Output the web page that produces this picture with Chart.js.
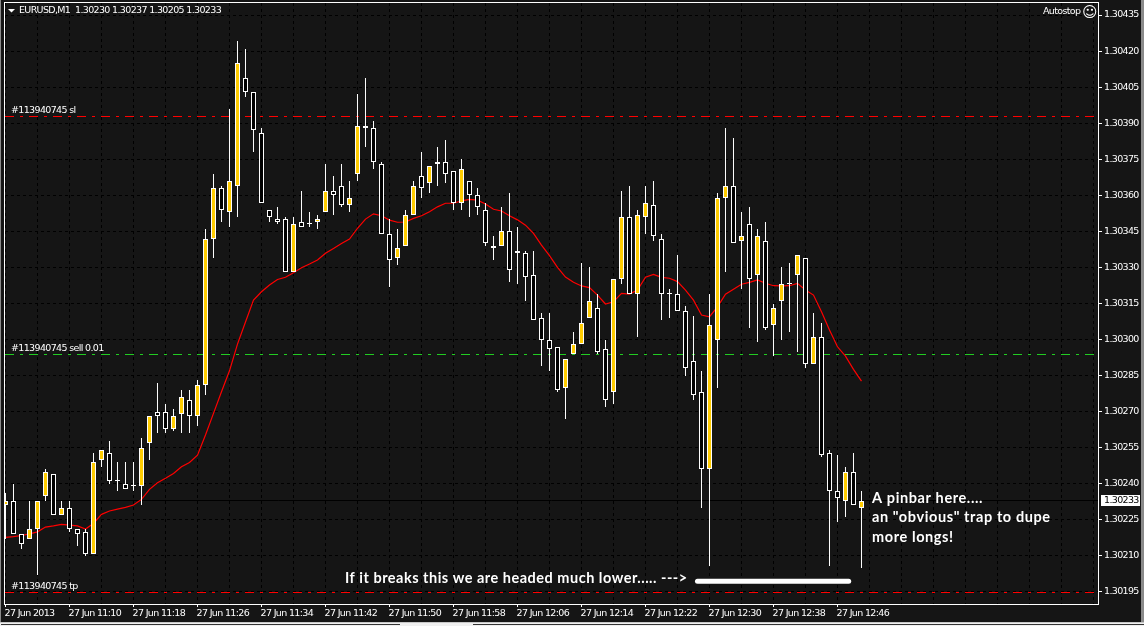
<!DOCTYPE html>
<html lang="en">
  <head>
    <meta charset="UTF-8" />
    <title>EURUSD,M1</title>
    <script src="https://cdn.jsdelivr.net/npm/chart.js"></script>
    <style>
      html, body { margin: 0; padding: 0; background: #151515; overflow: hidden; }
      #wrap { position: relative; width: 1144px; height: 626px; }
      canvas { display: block; }
      .edge { position: absolute; }
    </style>
  </head>
  <body>
    <div id="wrap">
      <canvas id="myChart" width="1144" height="626"></canvas>
      <div class="edge" style="left:0;top:0;width:1px;height:622px;background:#8a8a8a"></div>
      <div class="edge" style="left:1141px;top:0;width:3px;height:622px;background:#8a8a8a"></div>
      <div class="edge" style="left:0;top:622px;width:1144px;height:1px;background:#c8c8c8"></div>
      <div class="edge" style="left:0;top:623px;width:1144px;height:3px;background:#f0f0f0"></div>
      <div class="edge" style="left:1px;top:624px;width:399px;height:1px;background:#333"></div>
      <div class="edge" style="left:473px;top:624px;width:671px;height:1px;background:#333"></div>
    </div>

    <script>
      // DATA
      const opens = [
        1.30231,1.30233,1.30219,1.30217,1.30221,1.30235,1.30244,1.30227,1.30230,1.30221,
        1.30220,1.30211,1.30250,1.30253,1.30241,1.30240,1.30239,1.30239,1.30257,1.30270,
        1.30270,1.30263,1.30269,1.30275,1.30268,1.30281,1.30342,1.30363,1.30353,1.30364,
        1.30409,1.30403,1.30386,1.30354,1.30350,1.30350,1.30328,1.30349,1.30348,1.30349,
        1.30353,1.30362,1.30364,1.30356,1.30369,1.30389,1.30388,1.30373,1.30344,1.30334,
        1.30339,1.30352,1.30368,1.30365,1.30374,1.30374,1.30370,1.30357,1.30366,1.30360,
        1.30354,1.30339,1.30339,1.30345,1.30337,1.30336,1.30327,1.30309,1.30300,1.30297,
        1.30280,1.30294,1.30298,1.30309,1.30313,1.30296,1.30278,1.30325,1.30351,1.30319,
        1.30351,1.30356,1.30342,1.30319,1.30319,1.30312,1.30291,1.30278,1.30246,1.30300,
        1.30359,1.30364,1.30341,1.30348,1.30327,1.30341,1.30306,1.30316,1.30323,1.30327,
        1.30334,1.30290,1.30301,1.30253,1.30237,1.30233,1.30245,1.30230
      ];
      const highs = [
        1.30236,1.30240,1.30219,1.30233,1.30233,1.30246,1.30244,1.30233,1.30233,1.30221,
        1.30221,1.30253,1.30254,1.30258,1.30249,1.30249,1.30249,1.30259,1.30268,1.30282,
        1.30273,1.30271,1.30279,1.30279,1.30283,1.30346,1.30369,1.30364,1.30396,1.30424,
        1.30421,1.30403,1.30388,1.30354,1.30355,1.30351,1.30351,1.30362,1.30353,1.30352,
        1.30373,1.30368,1.30373,1.30366,1.30402,1.30409,1.30391,1.30374,1.30350,1.30346,
        1.30354,1.30366,1.30378,1.30372,1.30380,1.30383,1.30370,1.30375,1.30366,1.30363,
        1.30357,1.30343,1.30355,1.30361,1.30347,1.30337,1.30337,1.30311,1.30311,1.30297,
        1.30292,1.30303,1.30332,1.30330,1.30319,1.30300,1.30325,1.30362,1.30364,1.30354,
        1.30364,1.30366,1.30344,1.30321,1.30335,1.30314,1.30310,1.30287,1.30319,1.30361,
        1.30388,1.30384,1.30353,1.30355,1.30346,1.30349,1.30315,1.30330,1.30332,1.30335,
        1.30334,1.30311,1.30307,1.30254,1.30252,1.30247,1.30253,1.30237
      ];
      const lows = [
        1.30217,1.30219,1.30213,1.30217,1.30202,1.30233,1.30227,1.30227,1.30220,1.30214,
        1.30210,1.30211,1.30247,1.30240,1.30237,1.30238,1.30237,1.30231,1.30250,1.30261,
        1.30261,1.30262,1.30261,1.30261,1.30264,1.30277,1.30334,1.30349,1.30347,1.30351,
        1.30401,1.30378,1.30357,1.30349,1.30348,1.30328,1.30328,1.30347,1.30347,1.30346,
        1.30353,1.30352,1.30355,1.30353,1.30366,1.30380,1.30371,1.30344,1.30322,1.30331,
        1.30339,1.30352,1.30359,1.30361,1.30364,1.30365,1.30354,1.30354,1.30351,1.30352,
        1.30339,1.30333,1.30339,1.30324,1.30323,1.30316,1.30308,1.30289,1.30287,1.30278,
        1.30267,1.30294,1.30298,1.30309,1.30294,1.30272,1.30273,1.30323,1.30319,1.30301,
        1.30344,1.30341,1.30308,1.30309,1.30312,1.30285,1.30275,1.30230,1.30206,1.30280,
        1.30328,1.30340,1.30321,1.30305,1.30299,1.30304,1.30293,1.30300,1.30303,1.30295,
        1.30288,1.30290,1.30251,1.30206,1.30224,1.30226,1.30231,1.30205
      ];
      const closes = [
        1.30233,1.30219,1.30215,1.30221,1.30233,1.30245,1.30227,1.30230,1.30221,1.30219,
        1.30211,1.30249,1.30254,1.30241,1.30241,1.30238,1.30239,1.30255,1.30268,1.30268,
        1.30263,1.30268,1.30276,1.30268,1.30281,1.30342,1.30363,1.30354,1.30366,1.30415,
        1.30403,1.30387,1.30357,1.30351,1.30349,1.30328,1.30348,1.30347,1.30348,1.30350,
        1.30362,1.30360,1.30356,1.30359,1.30389,1.30388,1.30374,1.30344,1.30333,1.30338,
        1.30352,1.30364,1.30363,1.30372,1.30373,1.30369,1.30357,1.30371,1.30360,1.30355,
        1.30340,1.30338,1.30345,1.30329,1.30336,1.30326,1.30308,1.30300,1.30296,1.30279,
        1.30292,1.30298,1.30307,1.30316,1.30295,1.30275,1.30325,1.30351,1.30319,1.30352,
        1.30357,1.30343,1.30319,1.30319,1.30312,1.30288,1.30277,1.30246,1.30306,1.30359,
        1.30364,1.30340,1.30343,1.30325,1.30343,1.30305,1.30313,1.30323,1.30323,1.30335,
        1.30290,1.30301,1.30252,1.30237,1.30234,1.30245,1.30231,1.30233
      ];
      const movingAvg = [
        1.302177,1.302180,1.302185,1.302192,1.302200,1.302220,1.302225,1.302231,1.302228,1.302225,
        1.302212,1.302235,1.302273,1.302287,1.302295,1.302302,1.302312,1.302335,1.302377,1.302404,
        1.302423,1.302443,1.302471,1.302489,1.302519,1.302603,1.302693,1.302783,1.302870,1.302981,
        1.303073,1.303164,1.303199,1.303227,1.303250,1.303259,1.303278,1.303299,1.303314,1.303331,
        1.303359,1.303379,1.303400,1.303418,1.303463,1.303501,1.303523,1.303515,1.303497,1.303488,
        1.303489,1.303504,1.303515,1.303532,1.303552,1.303567,1.303567,1.303577,1.303583,1.303580,
        1.303564,1.303542,1.303535,1.303515,1.303498,1.303476,1.303442,1.303393,1.303349,1.303300,
        1.303260,1.303238,1.303223,1.303216,1.303185,1.303148,1.303157,1.303192,1.303189,1.303206,
        1.303259,1.303271,1.303259,1.303255,1.303241,1.303206,1.303164,1.303102,1.303095,1.303136,
        1.303189,1.303209,1.303230,1.303238,1.303248,1.303234,1.303224,1.303223,1.303224,1.303234,
        1.303206,1.303185,1.303116,1.303040,1.302970,1.302931,1.302876,1.302827
      ];

      const timeLabels = [
        "27 Jun 2013","27 Jun 11:10","27 Jun 11:18","27 Jun 11:26","27 Jun 11:34",
        "27 Jun 11:42","27 Jun 11:50","27 Jun 11:58","27 Jun 12:06","27 Jun 12:14",
        "27 Jun 12:22","27 Jun 12:30","27 Jun 12:38","27 Jun 12:46"
      ];
      const priceTicks = [
        1.30435,1.30420,1.30405,1.30390,1.30375,1.30360,1.30345,1.30330,1.30315,
        1.30300,1.30285,1.30270,1.30255,1.30240,1.30225,1.30210,1.30195
      ];
      const gridBars = [
        0,4,8,12,16,20,24,28,32,36,40,44,48,52,56,60,64,68,72,76,80,84,88,92,96,
        100,104,108,112,116,120,124,128,132,136
      ];

      const slLevel = 1.30393;
      const sellLevel = 1.30294;
      const tpLevel = 1.30195;
      const lastPrice = 1.30233;
      const breakLevel = 1.301995;
      const breakSpan = [86.5, 105.4];

      const title = "EURUSD,M1  1.30230 1.30237 1.30205 1.30233";
      const noteLines = ['A pinbar here....', 'an "obvious" trap to dupe', 'more longs!'];
      const breakNote = "If it breaks this we are headed much lower..... --->";

      // one bar every 8px, first bar half cut by the left edge
      const xMin = -0.06125;
      const xMax = xMin + 1093 / 8;

      const smallFont = '9.5px "DejaVu Sans"';
      const smallSpacing = "-0.65px";
      const noteFont = 'bold 14.5px "Lato"';
      const YELLOW = "#ffcc00";
      const RED = "#ff0000";
      const GREEN = "#22cc22";

      // pixel row of a horizontal line
      let rowOf = (y) => Math.round(y - 0.2);

      let levelLine = (y, color, dash, order) => ({
        type: "line",
        data: [{ x: xMin, y: y }, { x: xMax, y: y }],
        borderColor: color,
        borderWidth: 1,
        borderDash: dash,
        pointRadius: 0,
        order: order,
        snap: true
      });

      // PLUGIN : crisp edges, frame and chart texts

      const terminal = {
        id: "terminal",
        afterDatasetsUpdate(chart) {
          chart.data.datasets.forEach((ds, i) => {
            let meta = chart.getDatasetMeta(i);
            if (ds.type === "bar") {
              meta.data.forEach((el) => {
                el.y = Math.round(el.y);
                el.base = Math.round(el.base);
                if (el.y === el.base) el.base = el.y + 1;
              });
            } else if (ds.snap) {
              meta.data.forEach((p) => { p.y = rowOf(p.y) + 0.5; });
            }
          });
        },
        beforeDraw(chart) {
          chart.ctx.letterSpacing = smallSpacing;
        },
        afterDraw(chart) {
          const ctx = chart.ctx;
          const area = chart.chartArea;
          const yScale = chart.scales.y;
          ctx.save();

          ctx.strokeStyle = "#ffffff";
          ctx.lineWidth = 1;
          ctx.strokeRect(area.left - 0.5, area.top - 0.5, area.right - area.left + 1, area.bottom - area.top + 1);

          ctx.fillStyle = "#ffffff";
          ctx.font = smallFont;
          ctx.textBaseline = "middle";
          ctx.textAlign = "left";

          // menu arrow and title
          ctx.beginPath();
          ctx.moveTo(8, 9);
          ctx.lineTo(15, 9);
          ctx.lineTo(11.5, 12.5);
          ctx.closePath();
          ctx.fill();
          ctx.fillText(title, 19, 11);

          ctx.fillText("#113940745 sl", 11, 111);
          ctx.fillText("#113940745 sell 0.01", 11, 349);
          ctx.fillText("#113940745 tp", 11, 587);
          ctx.fillText("Autostop", 1043, 12);
          ctx.letterSpacing = "0px";
          ctx.font = '15px "DejaVu Sans"';
          ctx.fillText("\u263A", 1082, 13);

          // last price box
          let py = rowOf(yScale.getPixelForValue(lastPrice));
          ctx.fillRect(1101, py - 5, 39, 11);
          ctx.fillStyle = "#000000";
          ctx.font = smallFont;
          ctx.letterSpacing = smallSpacing;
          ctx.fillText(lastPrice.toFixed(5), 1104, py + 1);

          // hand written notes
          ctx.fillStyle = "#ffffff";
          ctx.font = noteFont;
          ctx.letterSpacing = "0.6px";
          noteLines.forEach((line, i) => ctx.fillText(line, 872, 498 + i * 19.5));
          ctx.letterSpacing = "0.5px";
          ctx.fillText(breakNote, 345, 578);
          ctx.restore();
        }
      };

      // RENDERING THE CHART

      const bars = opens.map((o, i) => i);

      new Chart(document.getElementById("myChart"), {
        plugins: [terminal],
        data: {
          datasets: [
            {
              type: "bar",
              data: bars.map((i) => ({ x: i, y: [Math.min(opens[i], closes[i]), Math.max(opens[i], closes[i])] })),
              backgroundColor: bars.map((i) => (closes[i] > opens[i] ? YELLOW : "#000000")),
              borderColor: "#ffffff",
              borderWidth: 1,
              borderSkipped: false,
              inflateAmount: 0,
              barThickness: 5,
              minBarLength: 1,
              grouped: false,
              order: 1
            },
            {
              type: "bar",
              data: bars.map((i) => ({ x: i, y: [lows[i], highs[i]] })),
              backgroundColor: "#ffffff",
              borderWidth: 0,
              inflateAmount: 0,
              barThickness: 1,
              grouped: false,
              order: 2
            },
            {
              type: "line",
              data: bars.map((i) => ({ x: i, y: movingAvg[i] })),
              borderColor: RED,
              borderWidth: 1.2,
              pointRadius: 0,
              tension: 0,
              order: 3
            },
            {
              type: "line",
              data: breakSpan.map((x) => ({ x: x, y: breakLevel })),
              borderColor: "#ffffff",
              borderWidth: 5,
              borderCapStyle: "round",
              pointRadius: 0,
              order: 0
            },
            levelLine(slLevel, RED, [9, 6, 3, 6], 4),
            levelLine(sellLevel, GREEN, [9, 6, 3, 6], 4),
            levelLine(tpLevel, RED, [9, 6, 3, 6], 4),
            levelLine(lastPrice, "#000000", [], 5)
          ]
        },
        options: {
          responsive: false,
          animation: false,
          events: [],
          layout: { autoPadding: false, padding: { left: 5, right: 0, top: 3, bottom: 0 } },
          plugins: { legend: { display: false }, tooltip: { enabled: false } },
          scales: {
            x: {
              type: "linear",
              offset: false,
              min: xMin,
              max: xMax,
              afterBuildTicks(axis) { axis.ticks = gridBars.map((v) => ({ value: v })); },
              afterFit(axis) {
                axis.height = 22;
                axis.paddingLeft = 0;
                axis.paddingRight = 0;
              },
              border: { display: false, dash: [3, 3] },
              grid: {
                offset: false,
                color: "#000000",
                tickLength: 3,
                tickColor: (c) => (c.tick && c.tick.value % 8 === 0 && timeLabels[c.tick.value / 8] ? "#ffffff" : "rgba(0,0,0,0)")
              },
              ticks: {
                autoSkip: false,
                maxRotation: 0,
                align: "start",
                labelOffset: -1,
                padding: 1,
                color: "#ffffff",
                font: { family: "DejaVu Sans", size: 9.5 },
                callback: (v) => (v % 8 === 0 ? timeLabels[v / 8] || "" : "")
              }
            },
            y: {
              type: "linear",
              position: "right",
              min: 1.3019,
              max: 1.3044,
              afterBuildTicks(axis) { axis.ticks = priceTicks.map((v) => ({ value: v })); },
              afterFit(axis) {
                axis.width = 46;
                axis.paddingTop = 0;
                axis.paddingBottom = 0;
              },
              border: { display: false, dash: [3, 3] },
              grid: { color: "#000000", tickLength: 4, tickColor: "#ffffff" },
              ticks: {
                autoSkip: false,
                padding: 2,
                color: "#ffffff",
                font: { family: "DejaVu Sans", size: 9.5 },
                callback: (v) => v.toFixed(5)
              }
            }
          }
        }
      });
    </script>
  </body>
</html>
